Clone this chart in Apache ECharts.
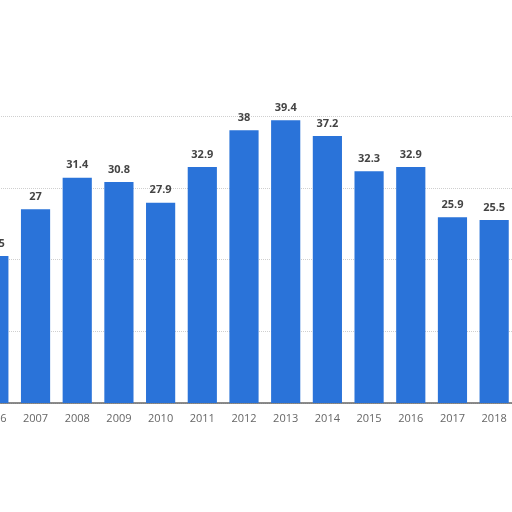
<!DOCTYPE html>
<html>
<head>
<meta charset="utf-8">
<script src="https://cdn.jsdelivr.net/npm/echarts@6/dist/echarts.min.js"></script>
<style>html,body{margin:0;padding:0;background:#fff;overflow:hidden;width:512px;height:512px;}#c{position:absolute;left:-27.5px;top:0;width:542px;height:512px;}</style>
</head>
<body>
<div id="c"></div>
<script>
const years = ['2006','2007','2008','2009','2010','2011','2012','2013','2014','2015','2016','2017','2018'];
const values = [20.5, 27, 31.4, 30.8, 27.9, 32.9, 38, 39.4, 37.2, 32.3, 32.9, 25.9, 25.5];
const yTicks = [0, 10, 20, 30, 40];

const chart = echarts.init(document.getElementById('c'));
chart.setOption({
  animation: false,
  backgroundColor: '#ffffff',
  grid: { left: 0, right: 0, top: 116, bottom: 109, containLabel: false },
  xAxis: {
    type: 'category',
    data: years,
    axisLine: { show: true, lineStyle: { color: '#666', width: 1.5 } },
    axisTick: { show: false },
    axisLabel: { color: '#666', fontSize: 11, fontFamily: 'Open Sans', margin: 10 }
  },
  yAxis: {
    type: 'value',
    min: yTicks[0],
    max: yTicks[yTicks.length - 1],
    interval: 10,
    axisLabel: { show: false },
    axisLine: { show: false },
    axisTick: { show: false },
    splitLine: { show: true, lineStyle: { color: '#cfcfcf', type: 'dotted', width: 1 } }
  },
  series: [{
    type: 'bar',
    data: values,
    barCategoryGap: '30%',
    itemStyle: { color: '#2a73d9' },
    label: {
      show: true,
      position: 'top',
      distance: 7,
      color: '#444',
      fontSize: 11,
      fontWeight: 'bold',
      fontFamily: 'Open Sans'
    }
  }]
});
</script>
</body>
</html>
